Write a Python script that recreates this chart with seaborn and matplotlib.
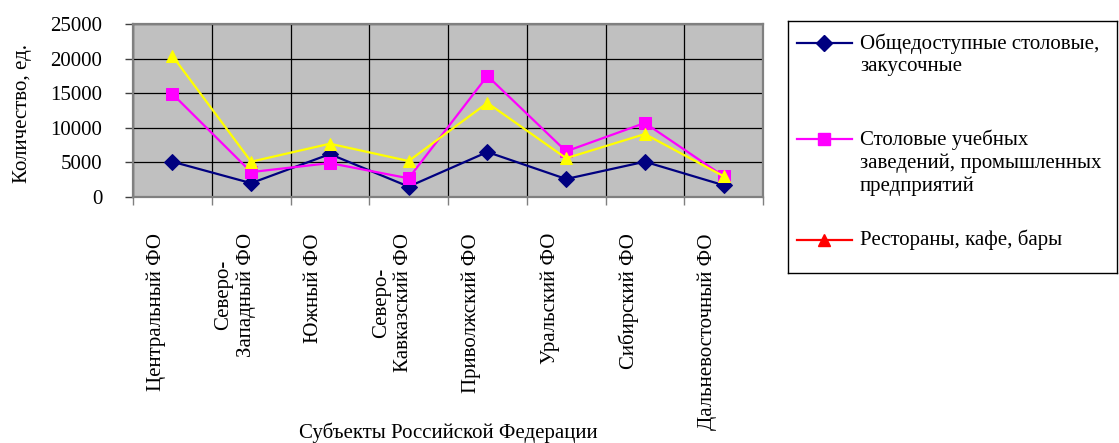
import pandas as pd
import seaborn as sns
import matplotlib.pyplot as plt
from matplotlib.transforms import ScaledTranslation

regions = ["Центральный ФО", "Северо-\nЗападный ФО", "Южный ФО", "Северо-\nКавказский ФО",
           "Приволжский ФО", "Уральский ФО", "Сибирский ФО", "Дальневосточный ФО"]
series = ["Общедоступные столовые,\nзакусочные",
          "Столовые учебных\nзаведений, промышленных\nпредприятий",
          "Рестораны, кафе, бары"]
canteens = [5100, 2000, 6200, 1500, 6500, 2600, 5100, 1700]
school_canteens = [14900, 3600, 4900, 2700, 17500, 6600, 10700, 3000]
restaurants = [20400, 5100, 7700, 5200, 13600, 5600, 9100, 3000]
yticks = [0, 5000, 10000, 15000, 20000, 25000]

line_colors = ["#000080", "#FF00FF", "#FFFF00"]
legend_colors = ["#000080", "#FF00FF", "#FF0000"]
marker_kinds = ["D", "s", "^"]
marker_sizes = [8.5, 8, 9]

df = pd.DataFrame({"region": regions * 3,
                   "series": [s for s in series for _ in regions],
                   "value": canteens + school_canteens + restaurants})
df["region"] = pd.Categorical(df["region"], categories=regions, ordered=True)
df["x"] = df["region"].cat.codes

plt.rcParams["font.family"] = ["Liberation Serif", "DejaVu Serif"]
plt.rcParams["font.size"] = 15

fig = plt.figure(figsize=(11.19, 4.43), dpi=100)
ax = fig.add_axes([133 / 1119, 1 - 197 / 443, 630 / 1119, 173 / 443])
ax.set_facecolor("#C0C0C0")

sns.lineplot(data=df, x="x", y="value", hue="series", style="series",
             palette=dict(zip(series, line_colors)), markers=dict(zip(series, marker_kinds)),
             dashes=False, linewidth=1.6, ax=ax, legend=False, sort=False)
for line, ms in zip(ax.lines, marker_sizes):
    line.set_markersize(ms)
    line.set_markeredgecolor(line.get_color())

n = len(regions)
ax.set_xlim(-0.5, n - 0.5)
ax.set_ylim(0, 25000)
ax.set_xticks([i - 0.5 for i in range(n + 1)])
ax.set_xticklabels([])
ax.set_xticks(range(n), minor=True)
ax.set_xticklabels(regions, minor=True, rotation=90, va="top", ha="center", multialignment="center")
ax.tick_params(axis="x", which="major", direction="out", length=6, width=1, color="#808080")
ax.tick_params(axis="x", which="minor", length=0, pad=26)
for lbl in ax.get_xticklabels(minor=True):
    lbl.set_transform(lbl.get_transform() + ScaledTranslation(-0.16, 0, fig.dpi_scale_trans))
ax.set_yticks(yticks)
ax.set_yticklabels([str(v) for v in yticks])
ax.tick_params(axis="y", direction="out", length=6, width=1, color="#404040", pad=16)
ax.grid(True, which="major", color="black", linewidth=0.9)
ax.set_axisbelow(True)
for sp in ax.spines.values():
    sp.set_color("#808080")
    sp.set_linewidth(1.6)

ax.set_xlabel("")
ax.set_ylabel("Количество, ед.")
ax.yaxis.set_label_coords((32 - 133) / 630, 0.48)
fig.text(448 / 1119, 1 - 433 / 443, "Субъекты Российской Федерации", ha="center", va="center")

# legend drawn by hand to keep the Excel layout
lax = fig.add_axes([788 / 1119, 1 - 273 / 443, 329 / 1119, 252 / 443])
lax.set_xlim(0, 329)
lax.set_ylim(252, 0)
lax.set_xticks([])
lax.set_yticks([])
for sp in lax.spines.values():
    sp.set_color("black")
    sp.set_linewidth(1.0)
for label, col, mk, ms, y in zip(series, legend_colors, marker_kinds, marker_sizes, [22, 118, 219]):
    lax.plot([9, 64], [y, y], color=col, linewidth=1.6)
    lax.plot([36], [y], marker=mk, markersize=ms, color=col)
    lax.text(72, y - 10, label, va="top", ha="left", linespacing=1.25)

fig.savefig("out.png", dpi=100)
